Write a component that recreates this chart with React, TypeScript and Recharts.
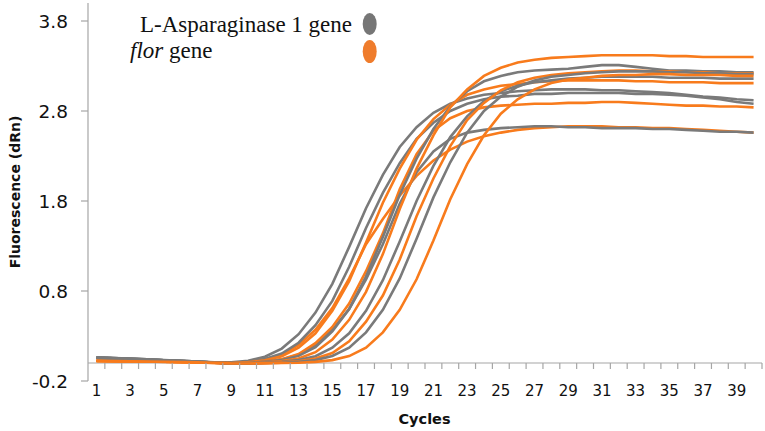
import { LineChart, Line, XAxis, YAxis, ReferenceLine } from 'recharts';

// qPCR amplification curves, L-Asparaginase 1 gene (gray) vs flor gene (orange)
const cycles = [
  1, 2, 3, 4, 5, 6, 7, 8, 9, 10, 11, 12, 13, 14, 15, 16, 17, 18, 19, 20,
  21, 22, 23, 24, 25, 26, 27, 28, 29, 30, 31, 32, 33, 34, 35, 36, 37, 38, 39, 40,
];
const xLabelCycles = [1, 3, 5, 7, 9, 11, 13, 15, 17, 19, 21, 23, 25, 27, 29, 31, 33, 35, 37, 39];
const yTicks = [-0.2, 0.8, 1.8, 2.8, 3.8];
const yDomain = [-0.2, 4.0];

const gray1 = [0.06, 0.055, 0.048, 0.04, 0.03, 0.025, 0.015, 0.008, 0.007, 0.025, 0.07, 0.16, 0.32, 0.56, 0.88, 1.29, 1.72, 2.09, 2.4, 2.62, 2.78, 2.88, 2.94, 2.98, 3.0, 3.02, 3.03, 3.04, 3.04, 3.04, 3.03, 3.03, 3.02, 3.01, 3.0, 2.98, 2.96, 2.95, 2.93, 2.92];
const gray2 = [0.058, 0.052, 0.045, 0.038, 0.03, 0.022, 0.014, 0.006, 0.0, 0.013, 0.045, 0.105, 0.225, 0.42, 0.69, 1.07, 1.5, 1.89, 2.22, 2.49, 2.67, 2.8, 2.88, 2.93, 2.96, 2.97, 2.99, 2.99, 3.0, 3.0, 3.0, 3.0, 2.99, 2.99, 2.98, 2.97, 2.95, 2.93, 2.9, 2.88];
const gray3 = [0.062, 0.056, 0.05, 0.042, 0.032, 0.025, 0.016, 0.006, -0.004, 0.0, 0.016, 0.039, 0.092, 0.2, 0.37, 0.6, 0.93, 1.32, 1.77, 2.12, 2.35, 2.49, 2.56, 2.59, 2.61, 2.62, 2.63, 2.63, 2.62, 2.62, 2.61, 2.61, 2.61, 2.6, 2.6, 2.59, 2.58, 2.57, 2.57, 2.56];
const gray4 = [0.06, 0.054, 0.047, 0.04, 0.031, 0.024, 0.015, 0.006, -0.004, -0.002, 0.013, 0.033, 0.079, 0.175, 0.35, 0.6, 0.96, 1.4, 1.87, 2.27, 2.6, 2.85, 3.02, 3.13, 3.19, 3.23, 3.25, 3.26, 3.27, 3.29, 3.31, 3.31, 3.29, 3.27, 3.25, 3.25, 3.24, 3.24, 3.23, 3.23];
const gray5 = [0.057, 0.051, 0.045, 0.038, 0.03, 0.022, 0.013, 0.004, -0.006, -0.005, 0.003, 0.013, 0.032, 0.076, 0.17, 0.33, 0.58, 0.92, 1.35, 1.8, 2.19, 2.51, 2.74, 2.91, 3.02, 3.08, 3.12, 3.14, 3.16, 3.17, 3.18, 3.18, 3.18, 3.18, 3.17, 3.17, 3.17, 3.16, 3.16, 3.16];
const gray6 = [0.059, 0.053, 0.046, 0.039, 0.031, 0.023, 0.014, 0.005, -0.005, -0.006, 0.0, 0.003, 0.013, 0.032, 0.078, 0.17, 0.34, 0.59, 0.94, 1.38, 1.84, 2.23, 2.56, 2.8, 2.96, 3.07, 3.14, 3.18, 3.2, 3.22, 3.23, 3.24, 3.24, 3.24, 3.23, 3.23, 3.22, 3.22, 3.21, 3.21];

const orange1 = [0.025, 0.022, 0.02, 0.018, 0.015, 0.012, 0.008, 0.002, 0.0, 0.011, 0.04, 0.092, 0.2, 0.37, 0.61, 0.94, 1.32, 1.6, 1.86, 2.08, 2.25, 2.37, 2.46, 2.52, 2.56, 2.59, 2.61, 2.62, 2.63, 2.63, 2.63, 2.62, 2.62, 2.61, 2.61, 2.6, 2.59, 2.58, 2.57, 2.56];
const orange2 = [0.023, 0.021, 0.019, 0.017, 0.014, 0.011, 0.007, 0.001, -0.002, 0.008, 0.031, 0.075, 0.17, 0.33, 0.58, 0.91, 1.34, 1.78, 2.16, 2.48, 2.71, 2.87, 2.98, 3.04, 3.08, 3.1, 3.12, 3.13, 3.14, 3.14, 3.14, 3.14, 3.13, 3.13, 3.12, 3.12, 3.12, 3.11, 3.11, 3.11];
const orange3 = [0.024, 0.022, 0.02, 0.017, 0.015, 0.012, 0.008, 0.002, -0.004, 0.001, 0.017, 0.043, 0.1, 0.22, 0.4, 0.66, 1.02, 1.44, 1.93, 2.32, 2.58, 2.72, 2.8, 2.84, 2.86, 2.87, 2.88, 2.88, 2.89, 2.89, 2.9, 2.9, 2.89, 2.88, 2.87, 2.86, 2.86, 2.85, 2.85, 2.84];
const orange4 = [0.026, 0.023, 0.021, 0.018, 0.016, 0.013, 0.008, 0.003, -0.004, -0.005, 0.007, 0.021, 0.051, 0.12, 0.26, 0.48, 0.79, 1.21, 1.71, 2.16, 2.53, 2.84, 3.04, 3.19, 3.28, 3.34, 3.37, 3.39, 3.4, 3.41, 3.42, 3.42, 3.42, 3.42, 3.41, 3.41, 3.4, 3.4, 3.4, 3.4];
const orange5 = [0.022, 0.02, 0.018, 0.016, 0.013, 0.01, 0.006, 0.001, -0.005, -0.006, 0.0, 0.007, 0.02, 0.05, 0.11, 0.24, 0.46, 0.75, 1.15, 1.63, 2.05, 2.41, 2.7, 2.89, 3.03, 3.12, 3.17, 3.2, 3.22, 3.23, 3.24, 3.25, 3.25, 3.24, 3.24, 3.23, 3.23, 3.22, 3.22, 3.22];
const orange6 = [0.023, 0.021, 0.019, 0.017, 0.014, 0.011, 0.007, 0.002, -0.004, -0.005, -0.004, 0.0, 0.003, 0.013, 0.032, 0.077, 0.17, 0.34, 0.59, 0.93, 1.36, 1.82, 2.21, 2.53, 2.77, 2.93, 3.04, 3.11, 3.15, 3.17, 3.19, 3.2, 3.2, 3.21, 3.21, 3.2, 3.2, 3.2, 3.19, 3.19];

const GRAY = '#7a7a7a';
const ORANGE = '#f87b1c';
const AXIS = '#a6a6a6';

const series = [
  { key: 'g1', values: gray1, color: GRAY },
  { key: 'o1', values: orange1, color: ORANGE },
  { key: 'g2', values: gray2, color: GRAY },
  { key: 'o2', values: orange2, color: ORANGE },
  { key: 'g3', values: gray3, color: GRAY },
  { key: 'o3', values: orange3, color: ORANGE },
  { key: 'g4', values: gray4, color: GRAY },
  { key: 'o4', values: orange4, color: ORANGE },
  { key: 'g5', values: gray5, color: GRAY },
  { key: 'o5', values: orange5, color: ORANGE },
  { key: 'g6', values: gray6, color: GRAY },
  { key: 'o6', values: orange6, color: ORANGE },
];

const data = cycles.map((cycle, i) => {
  const row: { [key: string]: number } = { cycle };
  series.forEach((s) => {
    row[s.key] = s.values[i];
  });
  return row;
});

const WIDTH = 765;
const HEIGHT = 431;
const MARGIN = { top: 3, right: 3, bottom: 0, left: 0 };
const Y_AXIS_W = 88;
const X_AXIS_H = 50;
const PLOT_W = WIDTH - MARGIN.left - MARGIN.right - Y_AXIS_W;
const PLOT_H = HEIGHT - MARGIN.top - MARGIN.bottom - X_AXIS_H;
// distance from plot bottom up to the value 0, where the category axis crosses
const ZERO_OFFSET = ((0 - yDomain[0]) / (yDomain[1] - yDomain[0])) * PLOT_H;
const HALF_CAT = PLOT_W / cycles.length / 2;

const CycleTick = (props: any) => {
  const { x, y, payload } = props;
  const zeroY = y - ZERO_OFFSET;
  const showLabel = xLabelCycles.includes(payload.value);
  return (
    <g>
      <line x1={x + HALF_CAT} x2={x + HALF_CAT} y1={zeroY} y2={zeroY + 6} stroke={AXIS} strokeWidth={1.2} />
      {showLabel && (
        <text x={x} y={y + 14.5} textAnchor="middle" fontFamily="DejaVu Sans" fontSize={15} fill="#111">
          {payload.value}
        </text>
      )}
    </g>
  );
};

export default function App() {
  return (
    <div style={{ position: 'absolute', left: 0, top: 0, width: WIDTH, height: HEIGHT, background: '#fff' }}>
      <LineChart width={WIDTH} height={HEIGHT} data={data} margin={MARGIN}>
        <XAxis
          dataKey="cycle"
          type="number"
          domain={[0.5, 40.5]}
          ticks={cycles}
          interval={0}
          height={X_AXIS_H}
          axisLine={false}
          tickLine={false}
          tickSize={0}
          tickMargin={0}
          tick={(p: any) => <CycleTick {...p} />}
        />
        <YAxis
          type="number"
          domain={yDomain}
          ticks={yTicks}
          width={Y_AXIS_W}
          interval={0}
          tickFormatter={(v: number) => v.toFixed(1)}
          tick={{ fill: '#111', fontSize: 18.5, fontFamily: 'DejaVu Sans' }}
          axisLine={{ stroke: AXIS, strokeWidth: 1.2 }}
          tickLine={{ stroke: AXIS, strokeWidth: 1.2 }}
          tickSize={7}
          tickMargin={13}
        />
        <ReferenceLine y={0} stroke={AXIS} strokeWidth={1.2} />
        {series.map((s) => (
          <Line
            key={s.key}
            dataKey={s.key}
            type="linear"
            stroke={s.color}
            strokeWidth={2.6}
            dot={false}
            activeDot={false}
            isAnimationActive={false}
          />
        ))}
      </LineChart>
      <svg
        width={WIDTH}
        height={HEIGHT}
        style={{ position: 'absolute', left: 0, top: 0, pointerEvents: 'none' }}
      >
        <text x={140} y={32} fontFamily="Liberation Serif" fontSize={23} fill="#111">
          L-Asparaginase 1 gene
        </text>
        <text x={130} y={58} fontFamily="Liberation Serif" fontSize={23} fill="#111">
          <tspan fontStyle="italic">flor</tspan> gene
        </text>
        <ellipse cx={369.7} cy={24} rx={7} ry={11} fill="#767676" />
        <ellipse cx={369.7} cy={51.5} rx={7} ry={11.5} fill="#ef7c2c" />
        <text
          x={15}
          y={192}
          transform="rotate(-90 15 192)"
          textAnchor="middle"
          dominantBaseline="central"
          fontFamily="DejaVu Sans"
          fontWeight="bold"
          fontSize={14}
          fill="#111"
        >
          Fluorescence (dRn)
        </text>
        <text x={424.5} y={424} textAnchor="middle" fontFamily="DejaVu Sans" fontWeight="bold" fontSize={14.5} fill="#111">
          Cycles
        </text>
      </svg>
    </div>
  );
}
